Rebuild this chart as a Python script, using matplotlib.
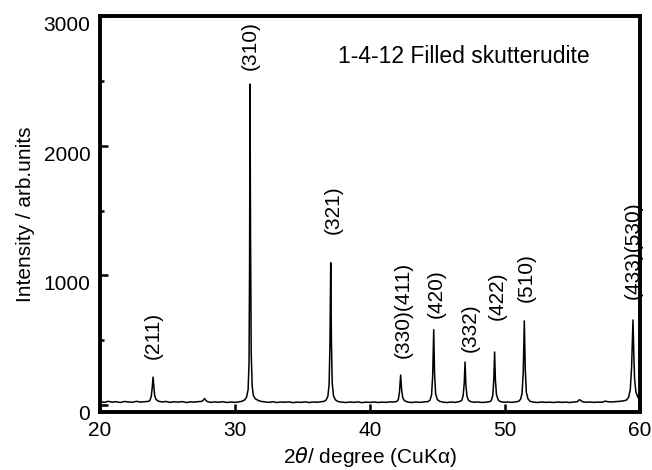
import matplotlib
matplotlib.use("Agg")
import matplotlib.pyplot as plt
from matplotlib.ticker import MultipleLocator

plt.rcParams['font.family'] = ['Liberation Sans', 'DejaVu Sans']
plt.rcParams['mathtext.fontset'] = 'dejavusans'

# XRD trace (2theta in degrees, intensity in arb. units)
two_theta = [
    20.0, 20.3, 20.6, 20.9, 21.2, 21.5, 21.8, 22.1, 22.4, 22.7, 23.0, 23.3, 23.6,
    23.7, 23.8, 23.87, 23.93, 23.99, 24.05, 24.15, 24.3,
    24.6, 24.9, 25.2, 25.5, 25.8, 26.1, 26.4, 26.7, 27.0, 27.3, 27.55,
    27.7, 27.75, 27.82, 27.95,
    28.2, 28.5, 28.8, 29.1, 29.4, 29.7, 30.0, 30.3, 30.5,
    30.7, 30.85, 30.97, 31.04, 31.08, 31.11, 31.15, 31.2, 31.27, 31.36, 31.5, 31.7, 31.9,
    32.2, 32.5, 32.8, 33.1, 33.4, 33.7, 34.0, 34.3, 34.6, 34.9, 35.2, 35.5, 35.8, 36.1, 36.4, 36.6,
    36.75, 36.88, 36.97, 37.03, 37.09, 37.14, 37.2, 37.3, 37.45, 37.65,
    37.9, 38.2, 38.5, 38.8, 39.1, 39.4, 39.7, 40.0, 40.3, 40.6, 40.9, 41.2, 41.5, 41.8, 42.0,
    42.1, 42.18, 42.27, 42.34, 42.42, 42.55,
    42.8, 43.1, 43.4, 43.7, 44.0, 44.3,
    44.45, 44.56, 44.64, 44.72, 44.78, 44.86, 44.98, 45.15,
    45.4, 45.7, 46.0, 46.3, 46.6,
    46.8, 46.9, 46.98, 47.04, 47.1, 47.18, 47.3, 47.45,
    47.7, 48.0, 48.3, 48.6, 48.9,
    49.0, 49.1, 49.17, 49.23, 49.29, 49.37, 49.5, 49.65,
    49.9, 50.2, 50.5, 50.8, 51.0,
    51.15, 51.26, 51.35, 51.43, 51.5, 51.58, 51.7, 51.85,
    52.1, 52.4, 52.7, 53.0, 53.3, 53.6, 53.9, 54.2, 54.5, 54.8, 55.1, 55.35,
    55.5, 55.6, 55.75,
    56.0, 56.3, 56.6, 56.9, 57.2, 57.45, 57.6, 57.9, 58.2, 58.5, 58.8, 59.0,
    59.15, 59.28, 59.38, 59.48, 59.54, 59.6, 59.7, 59.85, 60.0,
]
intensity = [
    28, 22, 30, 24, 27, 21, 29, 25, 23, 30, 24, 27, 30,
    38, 70, 140, 217, 140, 75, 45, 32,
    25, 29, 22, 27, 24, 28, 21, 26, 24, 28, 30,
    45, 52, 40, 28,
    22, 26, 23, 27, 21, 25, 22, 26, 30,
    40, 60, 120, 330, 1100, 2475, 1300, 400, 150, 75, 50, 38, 30,
    26, 22, 27, 21, 25, 23, 26, 20, 24, 22, 26, 21, 25, 23, 27, 30,
    40, 70, 160, 450, 1098, 500, 170, 70, 40, 28,
    24, 21, 25, 22, 26, 20, 24, 22, 25, 21, 24, 22, 26, 25, 30,
    45, 100, 232, 120, 60, 35,
    24, 21, 25, 22, 26, 28,
    40, 80, 220, 582, 250, 90, 45, 30,
    24, 21, 25, 22, 27,
    38, 75, 170, 333, 160, 70, 38, 28,
    23, 25, 21, 24, 28,
    40, 80, 200, 410, 190, 80, 40, 28,
    23, 25, 22, 26, 30,
    45, 90, 250, 650, 280, 100, 50, 30,
    24, 21, 25, 22, 24, 21, 25, 22, 24, 21, 25, 27,
    42, 38, 26,
    23, 25, 22, 24, 23, 32, 27, 25, 28, 30, 34, 40,
    60, 120, 300, 657, 400, 200, 100, 60, 45,
]

# Miller index labels, their x position and the y of the label's lower end
peak_labels = ['(211)', '(310)', '(321)', '(330)(411)', '(420)',
               '(332)', '(422)', '(510)', '(433)(530)']
label_x = [23.93, 31.11, 37.26, 42.44, 44.94, 47.41, 49.41, 51.56, 59.48]
label_y = [356, 2583, 1322, 363, 673, 410, 657, 797, 820]

fig = plt.figure(figsize=(6.52, 4.70), dpi=100)
ax = fig.add_axes([0.1534, 0.124, 0.8282, 0.842])

ax.plot(two_theta, intensity, color='black', linewidth=1.1)

for lab, lx, ly in zip(peak_labels, label_x, label_y):
    ax.text(lx, ly, lab, rotation=90, ha='center', va='bottom', fontsize=15)

ax.text(37.6, 2636, '1-4-12 Filled skutterudite', fontsize=16.5, va='baseline')

ax.set_xlim(20, 60)
ax.set_ylim(-50, 3000)
ax.xaxis.set_major_locator(MultipleLocator(10))
ax.yaxis.set_major_locator(MultipleLocator(1000))
ax.yaxis.set_minor_locator(MultipleLocator(500))

for s in ax.spines.values():
    s.set_linewidth(2.8)
ax.tick_params(which='both', direction='in', top=False, right=False,
               labelsize=15, width=1.8)
ax.tick_params(which='major', length=6, pad=7)
ax.tick_params(which='minor', length=3)
for t in ax.get_yticklabels():
    t.set_verticalalignment('top')

ax.set_xlabel(r'2$\theta$/ degree (CuKα)', fontsize=15, labelpad=3)
ax.set_ylabel('Intensity / arb.units', fontsize=15, labelpad=6)

fig.savefig('out.png', dpi=100)
